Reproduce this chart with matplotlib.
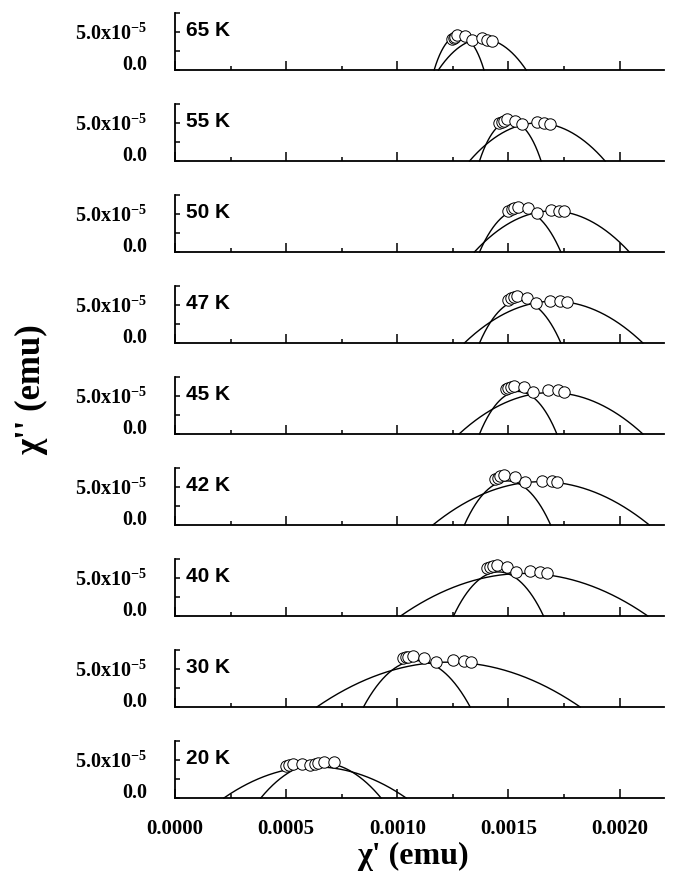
import numpy as np
import matplotlib
matplotlib.use("Agg")
import matplotlib.pyplot as plt
from matplotlib.ticker import FixedLocator, FixedFormatter, MultipleLocator
from matplotlib.transforms import ScaledTranslation

plt.rcParams['font.family'] = ['Liberation Serif', 'DejaVu Serif']
plt.rcParams['font.weight'] = 'bold'
plt.rcParams['mathtext.fontset'] = 'custom'
plt.rcParams['mathtext.rm'] = 'Liberation Serif:bold'
plt.rcParams['mathtext.bf'] = 'Liberation Serif:bold'
plt.rcParams['mathtext.it'] = 'Liberation Serif:bold:italic'
plt.rcParams['mathtext.default'] = 'rm'

# ---------------- data ----------------
temps = ['65 K', '55 K', '50 K', '47 K', '45 K', '42 K', '40 K', '30 K', '20 K']

# chi' (emu) and chi'' (emu) measured points
x_65 = [0.001245, 0.001253, 0.001260, 0.001270, 0.001305, 0.001335, 0.001380, 0.001403, 0.001425]
y_65 = [4.04e-5, 4.17e-5, 4.38e-5, 4.60e-5, 4.47e-5, 3.95e-5, 4.17e-5, 3.95e-5, 3.86e-5]
x_55 = [0.001459, 0.001470, 0.001478, 0.001493, 0.001530, 0.001563, 0.001628, 0.001660, 0.001688]
y_55 = [4.96e-5, 5.09e-5, 5.31e-5, 5.48e-5, 5.31e-5, 4.82e-5, 5.09e-5, 5.04e-5, 4.87e-5]
x_50 = [0.001500, 0.001515, 0.001526, 0.001542, 0.001587, 0.001628, 0.001690, 0.001728, 0.001752]
y_50 = [5.40e-5, 5.61e-5, 5.75e-5, 5.88e-5, 5.75e-5, 5.18e-5, 5.53e-5, 5.44e-5, 5.40e-5]
x_47 = [0.001500, 0.001512, 0.001523, 0.001538, 0.001583, 0.001625, 0.001688, 0.001733, 0.001763]
y_47 = [5.66e-5, 5.88e-5, 6.01e-5, 6.18e-5, 5.96e-5, 5.31e-5, 5.57e-5, 5.53e-5, 5.44e-5]
x_45 = [0.001488, 0.001500, 0.001511, 0.001523, 0.001568, 0.001610, 0.001680, 0.001725, 0.001752]
y_45 = [5.92e-5, 6.10e-5, 6.23e-5, 6.36e-5, 6.18e-5, 5.48e-5, 5.75e-5, 5.75e-5, 5.57e-5]
x_42 = [0.001440, 0.001452, 0.001463, 0.001480, 0.001530, 0.001575, 0.001650, 0.001695, 0.001720]
y_42 = [6.01e-5, 6.23e-5, 6.45e-5, 6.58e-5, 6.27e-5, 5.61e-5, 5.79e-5, 5.79e-5, 5.70e-5]
x_40 = [0.001403, 0.001418, 0.001430, 0.001450, 0.001493, 0.001535, 0.001598, 0.001640, 0.001673]
y_40 = [6.36e-5, 6.49e-5, 6.58e-5, 6.71e-5, 6.49e-5, 5.83e-5, 5.92e-5, 5.83e-5, 5.70e-5]
x_30 = [0.001028, 0.001040, 0.001050, 0.001070, 0.001120, 0.001173, 0.001250, 0.001298, 0.001330]
y_30 = [6.40e-5, 6.54e-5, 6.62e-5, 6.75e-5, 6.49e-5, 5.96e-5, 6.14e-5, 6.05e-5, 5.92e-5]
x_20 = [0.000500, 0.000515, 0.000533, 0.000570, 0.000608, 0.000630, 0.000645, 0.000670, 0.000716]
y_20 = [4.21e-5, 4.30e-5, 4.43e-5, 4.43e-5, 4.39e-5, 4.47e-5, 4.56e-5, 4.74e-5, 4.78e-5]

points_x = [x_65, x_55, x_50, x_47, x_45, x_42, x_40, x_30, x_20]
points_y = [y_65, y_55, y_50, y_47, y_45, y_42, y_40, y_30, y_20]

# Cole-Cole fit arcs: chi_S (left end), chi_T (right end), arc height
arcA_left  = [0.001166, 0.001370, 0.001370, 0.001370, 0.001370, 0.001302, 0.001253, 0.000848, 0.000386]
arcA_right = [0.001390, 0.001647, 0.001736, 0.001736, 0.001718, 0.001690, 0.001658, 0.001328, 0.000927]
arcA_h     = [4.6e-5, 5.3e-5, 5.6e-5, 5.6e-5, 5.6e-5, 5.8e-5, 5.8e-5, 6.1e-5, 4.65e-5]
arcB_left  = [0.001185, 0.001325, 0.001347, 0.001302, 0.001278, 0.001160, 0.001015, 0.000638, 0.000220]
arcB_right = [0.001580, 0.001935, 0.002044, 0.002105, 0.002105, 0.002134, 0.002127, 0.001823, 0.001040]
arcB_h     = [4.1e-5, 5.0e-5, 5.4e-5, 5.5e-5, 5.45e-5, 5.7e-5, 5.6e-5, 5.9e-5, 4.1e-5]

ytick_vals = [0.0, 5.0e-5]
ytick_labels = ['0.0', '5.0x10$^{-5}$']
yminor_vals = [2.5e-5, 7.5e-5]
xtick_vals = [0.0, 0.0005, 0.0010, 0.0015, 0.0020]
xtick_labels = ['0.0000', '0.0005', '0.0010', '0.0015', '0.0020']


def arc(xl, xr, h, n=300):
    a = (xr - xl) / 2.0
    xc = (xl + xr) / 2.0
    r = (a * a + h * h) / (2.0 * h)
    yc = h - r
    xs = np.linspace(xl, xr, n)
    ys = yc + np.sqrt(np.clip(r * r - (xs - xc) ** 2, 0, None))
    return xs, np.clip(ys, 0, None)


fig = plt.figure(figsize=(6.76, 8.72), dpi=100)
W, H = 676.0, 872.0
left_px, width_px, height_px = 175.0, 489.0, 57.0
first_bottom, step = 70.0, 91.0

n = len(temps)
for i in range(n):
    bottom_px = first_bottom + step * i
    ax = fig.add_axes([left_px / W, 1 - bottom_px / H, width_px / W, height_px / H])
    ax.set_xlim(0, 0.0022)
    ax.set_ylim(0, 7.5e-5)
    for s in ['top', 'right']:
        ax.spines[s].set_visible(False)
    for s in ['left', 'bottom']:
        ax.spines[s].set_linewidth(1.3)

    for xl, xr, h in [(arcA_left[i], arcA_right[i], arcA_h[i]),
                      (arcB_left[i], arcB_right[i], arcB_h[i])]:
        xs, ys = arc(xl, xr, h)
        ax.plot(xs, ys, color='black', lw=1.0, zorder=2, clip_on=False)

    ax.plot(points_x[i], points_y[i], linestyle='none', marker='o', ms=8.2,
            mfc='white', mec='black', mew=0.7, zorder=3, clip_on=False)

    ax.xaxis.set_major_locator(FixedLocator(xtick_vals))
    ax.xaxis.set_minor_locator(MultipleLocator(0.00025))
    ax.yaxis.set_major_locator(FixedLocator(ytick_vals))
    ax.yaxis.set_minor_locator(FixedLocator(yminor_vals))
    ax.yaxis.set_major_formatter(FixedFormatter(ytick_labels))
    ax.tick_params(axis='x', which='major', direction='in', length=6.5, width=1.1, pad=15,
                   labelsize=15, labelbottom=(i == n - 1))
    ax.tick_params(axis='x', which='minor', direction='in', length=3, width=1.1)
    ax.tick_params(axis='y', which='both', direction='in', length=3.5, width=1.1, pad=20,
                   labelsize=14.5)
    if i == n - 1:
        ax.xaxis.set_major_formatter(FixedFormatter(xtick_labels))
    ticks = ax.yaxis.get_major_ticks(len(ytick_vals))
    ticks[0].label1.set_verticalalignment('baseline')
    ticks[1].label1.set_verticalalignment('baseline')
    ticks[1].label1.set_transform(ticks[1].label1.get_transform()
                                  + ScaledTranslation(0, -8 / 100.0, fig.dpi_scale_trans))

    ax.text(0.023, 5.2e-5, temps[i], transform=ax.get_yaxis_transform(),
            family=['Liberation Sans', 'DejaVu Sans'], fontweight='bold',
            fontsize=15, ha='left', va='center', zorder=4)

fig.text(413 / W, 1 - 856 / H, "χ' (emu)", ha='center', va='center',
         fontsize=23, fontweight='bold')
fig.text(32 / W, 1 - 390 / H, "χ'' (emu)", ha='center', va='center',
         rotation=90, fontsize=25, fontweight='bold')

fig.savefig('out.png', dpi=100)
